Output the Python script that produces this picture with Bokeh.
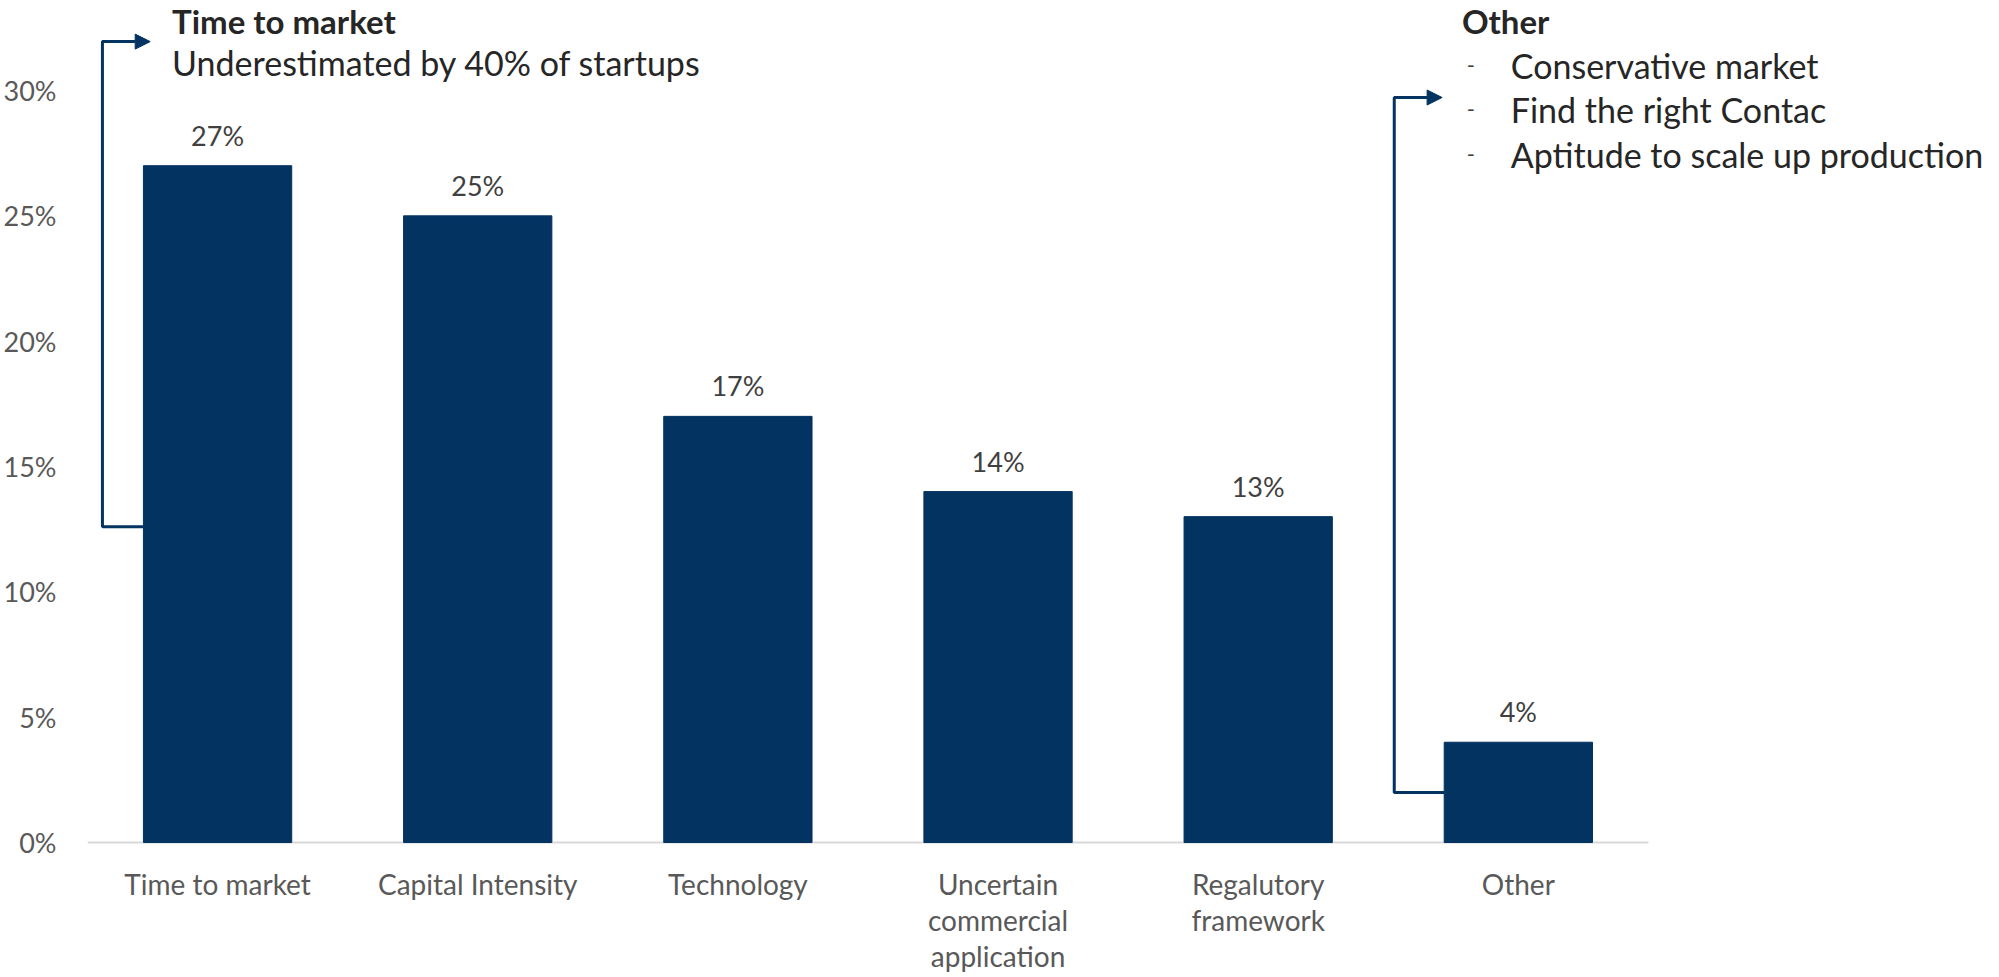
from bokeh.plotting import figure
from bokeh.models import Range1d, FixedTicker, Arrow, NormalHead
from bokeh.core.properties import value
from bokeh.embed import file_html
from bokeh.resources import INLINE

# ---- data ----
categories = ["Time to market", "Capital Intensity", "Technology",
              "Uncertain\ncommercial\napplication", "Regalutory\nframework", "Other"]
shares = [27, 25, 17, 14, 13, 4]
y_ticks = [0, 5, 10, 15, 20, 25, 30]
y_tick_labels = ["0%", "5%", "10%", "15%", "20%", "25%", "30%"]

left_title = "Time to market"
left_sub = "Underestimated by 40% of startups"
right_title = "Other"
right_items = ["Conservative market", "Find the right Contac", "Aptitude to scale up production"]

# ---- style ----
NAVY = "#023361"
FONT = value("Lato")
BAR_W = 0.57
Y_TOP = 33.59

xs = [i + 0.5 for i in range(len(categories))]

p = figure(width=1983, height=975,
           x_range=Range1d(0, 7.288), y_range=Range1d(-5.305, Y_TOP),
           x_axis_location=None,
           output_backend="svg", toolbar_location=None,
           min_border_left=78, min_border_right=0, min_border_top=0, min_border_bottom=0)
p.outline_line_color = None
p.xgrid.visible = False
p.ygrid.visible = False
p.background_fill_color = "white"

# y axis
p.yaxis.ticker = FixedTicker(ticks=y_ticks)
p.yaxis.major_label_overrides = {t: l for t, l in zip(y_ticks, y_tick_labels)}
p.yaxis.axis_line_color = None
p.yaxis.major_tick_line_color = None
p.yaxis.minor_tick_line_color = None
p.yaxis.major_label_standoff = 25
p.yaxis.major_label_text_font = "Lato"
p.yaxis.major_label_text_font_size = "27px"
p.yaxis.major_label_text_color = "#595959"

# baseline (category axis line)
p.segment(x0=[0], y0=[0], x1=[len(categories)], y1=[0], line_color="#d9d9d9", line_width=2)

# category labels under the baseline
p.text(x=xs, y=[-0.96] * len(xs), text=categories, text_align="center", text_baseline="top",
       text_font=FONT, text_font_size="28px", text_color="#595959", text_line_height=1.07)

# bars
p.vbar(x=xs, top=shares, bottom=0, width=BAR_W, fill_color=NAVY, line_color=NAVY)

# data labels
p.text(x=xs, y=shares, text=[f"{v}%" for v in shares], text_align="center",
       text_baseline="bottom", y_offset=-14, text_font=FONT, text_font_size="27px",
       text_color="#404040")

# left bracket (Time to market)
lx = 0.0574
ly_top = 31.95
ly_bot = 12.6
p.line(x=[xs[0] - BAR_W / 2, lx, lx, lx + 0.1], y=[ly_bot, ly_bot, ly_top, ly_top],
       line_color=NAVY, line_width=3)
p.add_layout(Arrow(end=NormalHead(size=15, fill_color=NAVY, line_color=NAVY, line_width=1),
                   x_start=lx, y_start=ly_top, x_end=0.241, y_end=ly_top,
                   line_color=NAVY, line_width=3))

# right bracket (Other)
rx = 5.023
ry_top = 29.72
ry_bot = 2.0
p.line(x=[xs[5] - BAR_W / 2, rx, rx, rx + 0.1], y=[ry_bot, ry_bot, ry_top, ry_top],
       line_color=NAVY, line_width=3)
p.add_layout(Arrow(end=NormalHead(size=15, fill_color=NAVY, line_color=NAVY, line_width=1),
                   x_start=rx, y_start=ry_top, x_end=5.207, y_end=ry_top,
                   line_color=NAVY, line_width=3))

# left annotation texts
p.text(x=[0.325], y=[Y_TOP - 0.03], text=[left_title], text_baseline="top",
       text_font=FONT, text_font_size="33px", text_font_style="bold", text_color="#262626")
p.text(x=[0.325], y=[31.11], text=[left_sub], text_baseline="middle",
       text_font=FONT, text_font_size="34px", text_color="#262626")

# right annotation texts
p.text(x=[5.283], y=[Y_TOP - 0.03], text=[right_title], text_baseline="top",
       text_font=FONT, text_font_size="33px", text_font_style="bold", text_color="#262626")
item_y = [30.99, 29.24, 27.44]
p.text(x=[5.302] * 3, y=item_y, text=["-"] * 3, text_baseline="middle",
       text_font=FONT, text_font_size="22px", text_color="#404040")
p.text(x=[5.471] * 3, y=item_y, text=right_items, text_baseline="middle",
       text_font=FONT, text_font_size="34px", text_color="#262626")

open("out.html", "w").write(file_html(p, INLINE))
